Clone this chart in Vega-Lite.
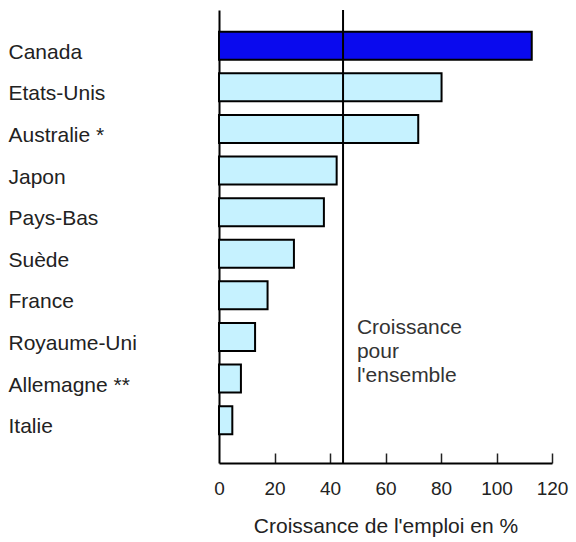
{
  "$schema": "https://vega.github.io/schema/vega-lite/v6.json",
  "autosize": {"type": "none"},
  "width": 333,
  "height": 453,
  "padding": {"left": 219, "top": 10, "right": 24, "bottom": 79},
  "background": "white",
  "config": {
    "view": {"stroke": null},
    "font": "Liberation Sans",
    "axis": {"labelColor": "#222", "titleColor": "#222", "grid": false, "domainColor": "#000", "domainWidth": 2}
  },
  "data": {
    "values": [
      {"pays": "Canada", "croissance": 112.7, "groupe": "Canada"},
      {"pays": "Etats-Unis", "croissance": 80.2, "groupe": "autres"},
      {"pays": "Australie *", "croissance": 71.8, "groupe": "autres"},
      {"pays": "Japon", "croissance": 42.4, "groupe": "autres"},
      {"pays": "Pays-Bas", "croissance": 37.8, "groupe": "autres"},
      {"pays": "Suède", "croissance": 27, "groupe": "autres"},
      {"pays": "France", "croissance": 17.5, "groupe": "autres"},
      {"pays": "Royaume-Uni", "croissance": 13, "groupe": "autres"},
      {"pays": "Allemagne **", "croissance": 7.9, "groupe": "autres"},
      {"pays": "Italie", "croissance": 4.8, "groupe": "autres"}
    ]
  },
  "resolve": {"axis": {"x": "independent"}},
  "encoding": {
    "y": {
      "field": "pays", "type": "nominal", "sort": null,
      "scale": {"paddingInner": 0.327, "paddingOuter": 0.608, "align": 0.43},
      "axis": {"title": null, "ticks": false, "labelAlign": "left", "labelPadding": 211, "labelFontSize": 21, "labelOffset": 7, "labelBaseline": "middle", "domain": true}
    }
  },
  "layer": [
    {
      "mark": {"type": "bar", "stroke": "#000", "strokeWidth": 2},
      "encoding": {
        "x": {
          "field": "croissance", "type": "quantitative",
          "scale": {"domain": [0, 120], "nice": false},
          "axis": {"orient": "bottom", "title": "Croissance de l'emploi en %", "titleFontSize": 21, "titleFontWeight": "normal", "titlePadding": 17, "values": [0, 20, 40, 60, 80, 100, 120], "ticks": false, "labelFontSize": 19, "labelPadding": 16, "labelFlush": false, "zindex": 1}
        },
        "color": {"field": "groupe", "type": "nominal", "scale": {"domain": ["Canada", "autres"], "range": ["#0a0aee", "#c6f2ff"]}, "legend": null}
      }
    },
    {
      "data": {"values": [{"ensemble": 44.7}]},
      "mark": {"type": "rule", "color": "#000", "strokeWidth": 2},
      "encoding": {
        "x": {"field": "ensemble", "type": "quantitative",
          "axis": {"orient": "top", "offset": -453, "title": null, "labels": false, "domain": false, "values": [20, 40, 60, 80, 100, 120], "ticks": true, "tickSize": 10, "tickColor": "#222", "tickWidth": 1.5}},
        "y": null
      }
    },
    {
      "data": {"values": [{"note": "Croissance pour l'ensemble"}]},
      "mark": {"type": "text", "align": "left", "baseline": "top", "fontSize": 21, "fontWeight": "normal", "lineHeight": 24, "color": "#333", "dy": -20},
      "encoding": {
        "x": {"datum": 49.7, "type": "quantitative", "axis": null},
        "y": {"datum": "Royaume-Uni"},
        "text": {"value": ["Croissance", "pour", "l'ensemble"]}
      }
    }
  ]
}
